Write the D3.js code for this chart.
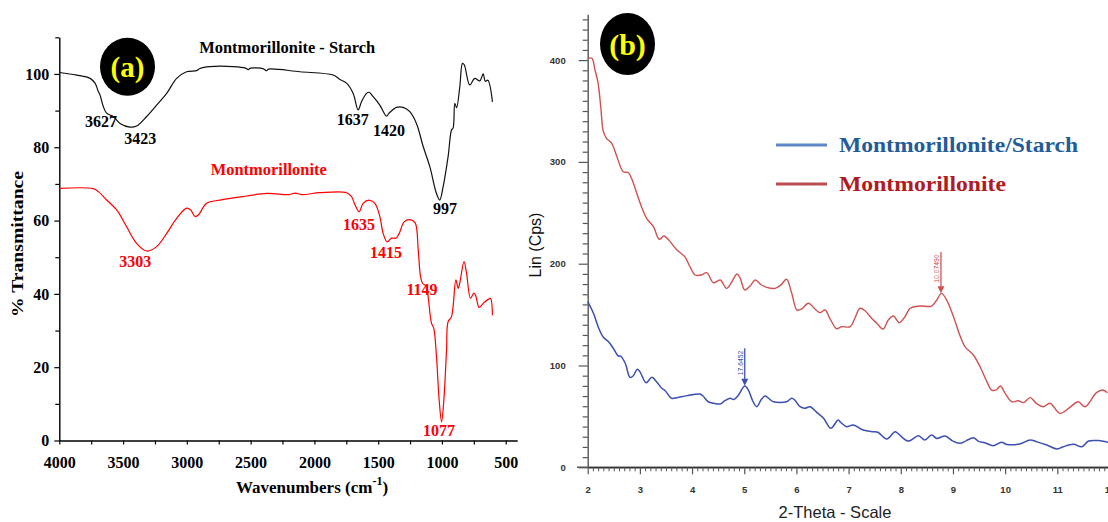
<!DOCTYPE html>
<html><head><meta charset="utf-8">
<script src="https://cdn.jsdelivr.net/npm/d3@7"></script>
<style>body{margin:0;background:#fff}svg{display:block}</style>
</head><body>
<svg id="c" width="1108" height="522"></svg>
<script>
// ---------- Panel (a) FTIR data ----------
const ftirStarchWn = [4000,3864,3759,3720,3694,3681,3655,3629,3577,3524,3446,3394,3315,3237,3158,3080,3002,2923,2897,2819,2636,2540,2519,2500,2400,2375,2360,2114,1853,1800,1748,1696,1657,1630,1591,1571,1539,1487,1434,1415,1356,1304,1252,1200,1147,1095,1043,1017,991,952,925,912,899,885,860,839,825,782,743,703,677,660,640,604];
const ftirStarchT  = [100.4,99.7,98.8,97.5,95.2,94.3,91.1,89.3,88.4,86.5,85.5,85.8,88.4,91.5,94.7,98.8,100.6,100.9,101.5,102.0,102.0,101.6,101.2,101.6,101.4,100.9,101.3,100.6,99.7,98.5,97.5,94.7,90.2,92.5,94.7,95.0,93.8,91.5,88.5,89.3,90.9,90.9,89.7,86.5,80.2,74.7,67.4,65.6,69.2,77.4,84.7,85.3,92.0,90.8,96.5,102.9,102.5,97.0,98.8,98.1,100.0,98.0,98.3,92.4];
const ftirMontWn = [4000,3734,3694,3629,3550,3472,3394,3315,3237,3158,3080,3002,2970,2936,2910,2845,2740,2532,2374,2200,2150,2100,1957,1748,1708,1682,1649,1618,1571,1526,1487,1461,1430,1396,1360,1335,1295,1243,1209,1186,1168,1152,1121,1108,1082,1064,1043,1022,1003,985,964,952,925,891,873,860,827,807,776,750,735,709,677,638,620,604];
const ftirMontT  = [68.8,68.7,67.9,65.6,62.9,58.3,53.8,51.7,52.9,56.5,60.6,63.4,62.9,61.1,61.5,64.7,65.6,66.7,67.4,67.1,67.5,67.1,67.6,67.6,66.5,64.3,62.4,64.7,65.6,64.7,61.1,56.5,54.2,55.2,55.2,56.5,59.7,60.2,59.3,52.0,44.7,42.9,42.0,39.2,32.0,30.6,22.9,11.1,5.1,11.1,24.7,32.4,33.8,43.8,41.5,43.0,48.8,45.6,38.8,40.2,39.5,36.3,37.4,38.5,38.8,34.2];
const ftirXTicks = [4000,3500,3000,2500,2000,1500,1000,500];
const ftirXMinor = [3750,3250,2750,2250,1750,1250,750];
const ftirYTicks = [0,20,40,60,80,100];
const ftirYMinor = [10,30,50,70,90,110];
const starchPeakText = ["3627","3423","1637","1420","997"];
const starchPeakWn   = [3673,3365,1699,1415,976];
const starchPeakT    = [85.5,80.9,86.2,83.2,61.9];
const montPeakText = ["3303","1635","1415","1149","1077"];
const montPeakWn   = [3404,1650,1438,1156,1023];
const montPeakT    = [47.3,57.3,49.9,39.8,1.1];
const ftirSeriesNames = ["Montmorillonite - Starch","Montmorillonite"];
const ftirSeriesNameWn = [2213,2358];
const ftirSeriesNameT  = [105.7,72.4];

// ---------- Panel (b) XRD data ----------
const xrdStarchTheta = [2.00,2.11,2.20,2.30,2.40,2.49,2.59,2.63,2.72,2.81,2.87,2.95,3.00,3.12,3.23,3.32,3.42,3.48,3.61,3.71,3.90,4.15,4.21,4.31,4.41,4.54,4.63,4.73,4.80,4.89,5.01,5.08,5.17,5.24,5.33,5.40,5.49,5.56,5.81,5.91,5.97,6.07,6.16,6.26,6.39,6.52,6.66,6.80,6.85,6.96,7.09,7.28,7.47,7.56,7.73,7.89,7.95,8.14,8.34,8.46,8.59,8.69,8.85,8.99,9.13,9.25,9.39,9.49,9.61,9.77,9.93,10.03,10.28,10.48,10.61,10.80,10.99,11.11,11.31,11.47,11.60,11.82,11.98];
const xrdStarchCps   = [162.7,151.3,138.1,127.7,123.4,116.9,109.3,109.3,102.2,88.4,89.7,96.3,94,83.1,88.4,84.1,77.6,75.5,67.8,68.4,70.4,72.0,70,64.4,62.9,62.2,65.4,67.8,66.5,71,79.9,75.9,64.4,59.5,66.8,70,66.8,64.4,64.4,67.8,66,59.5,57.9,59.5,54,48.1,38.3,46.5,44,39.9,41.6,36.6,35,34.5,27.8,35,33,25.8,31,26.8,31.7,28.4,30.7,26,23.6,26,29.1,25.5,24.2,21.2,24.6,22.5,22.9,26.8,25,21.9,18,20.2,22.6,20.2,25.8,26.1,24.6];
const xrdMontTheta = [2.00,2.08,2.14,2.20,2.25,2.30,2.36,2.46,2.56,2.68,2.78,2.84,2.94,3.03,3.13,3.26,3.37,3.46,3.54,3.71,3.86,3.96,4.06,4.18,4.28,4.41,4.54,4.66,4.76,4.86,4.92,5.01,5.11,5.21,5.33,5.43,5.59,5.70,5.81,5.91,6.01,6.10,6.23,6.36,6.45,6.55,6.64,6.77,6.86,7.03,7.12,7.22,7.32,7.44,7.54,7.66,7.76,7.86,7.97,8.08,8.18,8.37,8.59,8.69,8.78,8.88,9.01,9.13,9.23,9.39,9.52,9.65,9.74,9.83,9.91,10.00,10.13,10.25,10.35,10.48,10.61,10.73,10.86,11.05,11.24,11.40,11.53,11.75,11.87,11.96];
const xrdMontCps   = [401.8,401.8,390.3,377.2,354.2,329.7,323.2,318.3,305.1,290.4,289.4,283.9,269.2,256,244.6,236.4,224,227.2,224,213.5,206.9,197,188.9,188.9,191.2,181.3,184,175.8,182,189.9,186,174.2,178,184,179.1,176.8,175.8,179,184.7,170.9,154.5,155.5,161.1,155.2,151.9,154.5,146.4,136.1,138.1,138.1,146.4,156.2,153.5,146.4,141.5,135.8,144.7,148.6,142,147.9,156.2,158.4,158.4,164.3,170.9,164.3,147.9,130,118.5,110.3,98.8,84.1,75.9,76,79.9,72.7,64.4,65.4,63.5,68.4,62.2,59.5,62.9,53,58.9,64.4,59.5,73.3,75.9,73.3];
const xrdXTicks = [2,3,4,5,6,7,8,9,10,11,12];
const xrdYTicks = [0,100,200,300,400];
const xrdPeakText  = ["17.6452","10.07490"];
const xrdPeakTheta = [5.01,8.77];
const xrdPeakTop   = [117,211.5];
const xrdPeakTip   = [80,171];
const xrdLegendNames = ["Montmorillonite/Starch","Montmorillonite"];

const svg = d3.select("#c");
const serif = "'Liberation Serif','Times New Roman',serif";
const sans = "'Liberation Sans',Arial,sans-serif";

// =================== Panel (a) ===================
const xA = d3.scaleLinear().domain([4000,410]).range([59.3,517.2]);
const yA = d3.scaleLinear().domain([0,110]).range([440.5,37.3]);
const gA = svg.append("g");

function styleAxis(g, font, size, weight, color){
  g.selectAll("path.domain").attr("stroke", color).attr("stroke-width",1.4);
  g.selectAll(".tick line").attr("stroke", color).attr("stroke-width",1.2);
  g.selectAll(".tick text").attr("font-family",font).attr("font-size",size).attr("font-weight",weight).attr("fill",color);
}
const axAx = gA.append("g").attr("transform","translate(0,440.5)")
  .call(d3.axisBottom(xA).tickValues(ftirXTicks).tickSize(4).tickSizeOuter(0).tickPadding(12).tickFormat(d3.format("d")));
styleAxis(axAx, serif, 16, "bold", "#000");
const axAxm = gA.append("g").attr("transform","translate(0,440.5)")
  .call(d3.axisBottom(xA).tickValues(ftirXMinor).tickSize(4).tickSizeOuter(0).tickFormat(""));
axAxm.select("path.domain").remove(); styleAxis(axAxm, serif,16,"bold","#000");
const axAy = gA.append("g").attr("transform","translate(59.3,0)")
  .call(d3.axisLeft(yA).tickValues(ftirYTicks).tickSize(5).tickSizeOuter(0).tickPadding(5).tickFormat(d3.format("d")));
styleAxis(axAy, serif, 16, "bold", "#000");
const axAym = gA.append("g").attr("transform","translate(59.3,0)")
  .call(d3.axisLeft(yA).tickValues(ftirYMinor).tickSize(4).tickSizeOuter(0).tickFormat(""));
axAym.select("path.domain").remove(); styleAxis(axAym, serif,16,"bold","#000");

// axis titles
const xt = gA.append("text").attr("x",312).attr("y",493).attr("text-anchor","middle")
  .attr("font-family",serif).attr("font-size",17).attr("font-weight","bold");
xt.append("tspan").text("Wavenumbers (cm");
xt.append("tspan").attr("font-size",12).attr("dy",-8).text("-1");
xt.append("tspan").attr("dy",8).text(")");
gA.append("text").attr("transform","translate(23,244) rotate(-90)").attr("text-anchor","middle")
  .attr("font-family",serif).attr("font-size",17).attr("font-weight","bold")
  .attr("textLength",146).attr("lengthAdjust","spacingAndGlyphs").text("% Transmittance");

// series text labels
const serColors = ["#000","#ff0000"];
const serLens = [176,116];
ftirSeriesNames.forEach((n,i)=>{
  gA.append("text").attr("x",xA(ftirSeriesNameWn[i])).attr("y",yA(ftirSeriesNameT[i]))
    .attr("text-anchor","middle").attr("font-family",serif).attr("font-size",16).attr("font-weight","bold")
    .attr("fill",serColors[i]).attr("textLength",serLens[i]).attr("lengthAdjust","spacingAndGlyphs").text(n);
});
// peak labels
function peakLabels(texts, wn, t, color){
  texts.forEach((s,i)=>{
    gA.append("text").attr("x",xA(wn[i])).attr("y",yA(t[i])).attr("text-anchor","middle")
      .attr("font-family",serif).attr("font-size",16).attr("font-weight","bold").attr("fill",color).text(s);
  });
}
peakLabels(starchPeakText, starchPeakWn, starchPeakT, "#000");
peakLabels(montPeakText, montPeakWn, montPeakT, "#ff0000");

const lineA = d3.line().x(d=>xA(d[0])).y(d=>yA(d[1])).curve(d3.curveCatmullRom.alpha(0.5));
gA.append("path").datum(d3.zip(ftirStarchWn, ftirStarchT)).attr("d",lineA)
  .attr("fill","none").attr("stroke","#111").attr("stroke-width",1.2);
gA.append("path").datum(d3.zip(ftirMontWn, ftirMontT)).attr("d",lineA)
  .attr("fill","none").attr("stroke","#ff0000").attr("stroke-width",1.2);

// badge (a)
gA.append("ellipse").attr("cx",127.5).attr("cy",66.7).attr("rx",27.5).attr("ry",29).attr("fill","#000");
gA.append("text").attr("x",127.5).attr("y",76.5).attr("text-anchor","middle").attr("font-family",serif)
  .attr("font-size",29).attr("font-weight","bold").attr("fill","#ffff00").text("(a)");

// =================== Panel (b) ===================
const xB = d3.scaleLinear().domain([2,12]).range([587.7,1109.5]);
const yB = d3.scaleLinear().domain([0,445]).range([467.3,14.3]);
const gB = svg.append("g");
const axCol = "#555";

gB.append("line").attr("x1",577).attr("x2",1108).attr("y1",467.3).attr("y2",467.3).attr("stroke",axCol).attr("stroke-width",1.4);
const bx = gB.append("g").attr("transform","translate(0,467.3)")
  .call(d3.axisBottom(xB).tickValues(xrdXTicks).tickSize(7).tickSizeOuter(0).tickPadding(12).tickFormat(d3.format("d")));
styleAxis(bx, sans, 9.5, "bold", "#333");
bx.selectAll(".tick line").attr("stroke",axCol);
const xMinor = d3.range(20,121).filter(v=>v%10!==0).map(v=>v/10);
const bxm = gB.append("g").attr("transform","translate(0,467.3)")
  .call(d3.axisBottom(xB).tickValues(xMinor).tickSize(4).tickSizeOuter(0).tickFormat(""));
bxm.select("path.domain").remove();
bxm.selectAll(".tick line").attr("stroke",axCol).attr("stroke-width",1);

const by = gB.append("g").attr("transform","translate(587.7,0)")
  .call(d3.axisLeft(yB).tickValues(xrdYTicks).tickSize(9).tickSizeOuter(0).tickPadding(13).tickFormat(d3.format("d")));
styleAxis(by, sans, 9.5, "bold", "#333");
by.selectAll("path.domain").attr("stroke",axCol);
by.selectAll(".tick line").attr("stroke",axCol);
const yMinor = d3.range(10,441,10).filter(v=>v%100!==0);
const bym = gB.append("g").attr("transform","translate(587.7,0)")
  .call(d3.axisLeft(yB).tickValues(yMinor).tickSize(5).tickSizeOuter(0).tickFormat(""));
bym.select("path.domain").remove();
bym.selectAll(".tick line").attr("stroke",axCol).attr("stroke-width",1.2);

gB.append("text").attr("x",835).attr("y",517.5).attr("text-anchor","middle").attr("font-family",sans)
  .attr("font-size",16.5).attr("fill","#222").text("2-Theta - Scale");
gB.append("text").attr("transform","translate(541,245) rotate(-90)").attr("text-anchor","middle")
  .attr("font-family",sans).attr("font-size",16).attr("fill","#111").text("Lin (Cps)");

const lineB = d3.line().x(d=>xB(d[0])).y(d=>yB(d[1])).curve(d3.curveCatmullRom.alpha(0.5));
const xrdColors = ["#3d4fb3","#cf5252"];
gB.append("path").datum(d3.zip(xrdMontTheta, xrdMontCps)).attr("d",lineB)
  .attr("fill","none").attr("stroke",xrdColors[1]).attr("stroke-width",1.4);
gB.append("path").datum(d3.zip(xrdStarchTheta, xrdStarchCps)).attr("d",lineB)
  .attr("fill","none").attr("stroke",xrdColors[0]).attr("stroke-width",1.5);

// peak markers
xrdPeakText.forEach((s,i)=>{
  const c = xrdColors[i], x = xB(xrdPeakTheta[i]), y1 = yB(xrdPeakTop[i]), y2 = yB(xrdPeakTip[i]);
  gB.append("line").attr("x1",x).attr("x2",x).attr("y1",y1).attr("y2",y2-4).attr("stroke",c).attr("stroke-width",1.3);
  gB.append("path").attr("d",`M${x-3.5},${y2-7}L${x+3.5},${y2-7}L${x},${y2}Z`).attr("fill",c);
  gB.append("text").attr("transform",`translate(${x-2},${(y1+y2)/2-4}) rotate(-90)`).attr("text-anchor","middle")
    .attr("font-family",sans).attr("font-size",6.8).attr("fill",c).text(s);
});

// legend
const legLineCols = ["#4d7cc2","#b53a3a"];
const legTextCols = ["#1f5c99","#b21a22"];
const legY = [145,184];
const legLens = [239,167];
xrdLegendNames.forEach((n,i)=>{
  gB.append("line").attr("x1",776).attr("x2",827).attr("y1",legY[i]).attr("y2",legY[i])
    .attr("stroke",legLineCols[i]).attr("stroke-width",3).attr("opacity",0.9);
  gB.append("text").attr("x",839).attr("y",legY[i]+7).attr("font-family",serif).attr("font-size",22)
    .attr("font-weight","bold").attr("fill",legTextCols[i]).attr("textLength",legLens[i])
    .attr("lengthAdjust","spacingAndGlyphs").text(n);
});

// badge (b)
gB.append("ellipse").attr("cx",627.5).attr("cy",44).attr("rx",27.5).attr("ry",31).attr("fill","#000");
gB.append("text").attr("x",627.5).attr("y",55).attr("text-anchor","middle").attr("font-family",serif)
  .attr("font-size",30).attr("font-weight","bold").attr("fill","#ffff00").text("(b)");
</script>
</body></html>
